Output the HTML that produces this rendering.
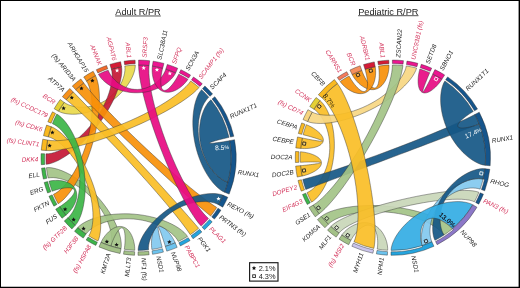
<!DOCTYPE html>
<html><head><meta charset="utf-8"><style>
html,body{margin:0;padding:0;background:#fff;}
body{width:520px;height:288px;overflow:hidden;}
svg{display:block;will-change:transform;}
svg text{font-family:"Liberation Sans",sans-serif;}
.lab text{font-size:6.35px;font-style:italic;}
</style></head><body>
<svg width="520" height="288" viewBox="0 0 520 288">
<rect x="0" y="0" width="520" height="288" fill="#ffffff"/>
<text x="138" y="15" text-anchor="middle" style="font-size:9.2px" fill="#1a1a1a">Adult R/PR</text>
<rect x="115.2" y="15.6" width="45.6" height="0.75" fill="#1a1a1a"/>
<text x="388.3" y="14.8" text-anchor="middle" style="font-size:9.2px" fill="#1a1a1a">Pediatric R/PR</text>
<rect x="358.1" y="15.4" width="60.4" height="0.75" fill="#1a1a1a"/>
<g class="lab">
<path d="M162.16,247.36 A92.70,92.70 0 0 1 151.86,249.45 L151.63,247.50 151.50,245.42 151.46,243.27 151.53,241.10 151.70,238.95 151.98,236.87 152.37,234.90 152.87,233.08 153.48,231.43 154.19,229.98 155.01,228.76 155.93,227.79 156.94,227.07 158.04,226.61 159.21,226.43 160.44,226.51 161.74,226.87 163.07,227.48 164.44,228.34 165.82,229.42 167.20,230.72 168.56,232.19 169.88,233.82 171.15,235.56 172.35,237.38 173.44,239.24 174.41,241.08 175.23,242.85 A92.70,92.70 0 0 1 165.36,246.45 L164.79,244.61 164.18,242.67 163.55,240.68 162.89,238.70 162.24,236.77 161.61,234.94 161.00,233.24 160.43,231.70 159.90,230.36 159.43,229.24 159.03,228.36 158.69,227.73 158.42,227.37 158.22,227.28 158.11,227.46 158.07,227.91 158.10,228.62 158.22,229.59 158.40,230.79 158.65,232.20 158.97,233.81 159.34,235.58 159.75,237.47 160.21,239.45 160.69,241.48 161.18,243.51 161.68,245.49 162.16,247.36 Z" fill="#82c9ef" fill-opacity="0.92" stroke="#2e2e2e" stroke-opacity="0.85" stroke-width="0.5"/>
<path d="M48.16,178.03 A92.70,92.70 0 0 1 46.44,167.66 L49.01,167.58 51.92,167.87 55.13,168.52 58.58,169.52 62.22,170.86 66.01,172.53 69.91,174.53 73.87,176.83 77.85,179.42 81.83,182.29 85.75,185.40 89.59,188.75 93.33,192.31 96.92,196.04 100.34,199.93 103.57,203.95 106.59,208.06 109.37,212.23 111.89,216.43 114.14,220.61 116.11,224.75 117.77,228.80 119.12,232.72 120.16,236.46 120.87,239.98 121.24,243.23 121.29,246.16 121.00,248.71 A92.70,92.70 0 0 1 110.81,246.14 L111.35,243.82 111.61,241.17 111.60,238.22 111.30,235.03 110.72,231.64 109.85,228.11 108.69,224.48 107.26,220.78 105.55,217.06 103.58,213.36 101.35,209.71 98.89,206.13 96.20,202.67 93.32,199.36 90.25,196.20 87.03,193.24 83.67,190.49 80.22,187.97 76.69,185.69 73.13,183.68 69.56,181.94 66.04,180.49 62.59,179.33 59.27,178.47 56.11,177.90 53.18,177.64 50.51,177.69 48.16,178.03 Z" fill="#a3c387" fill-opacity="0.92" stroke="#2e2e2e" stroke-opacity="0.85" stroke-width="0.5"/>
<path d="M110.81,246.14 A92.70,92.70 0 0 1 100.98,242.42 L101.86,240.64 102.93,238.80 104.16,236.95 105.55,235.15 107.04,233.44 108.64,231.85 110.31,230.41 112.03,229.17 113.79,228.13 115.56,227.33 117.33,226.77 119.08,226.48 120.79,226.45 122.46,226.70 124.06,227.22 125.59,228.00 127.02,229.04 128.36,230.32 129.59,231.83 130.71,233.54 131.70,235.42 132.56,237.44 133.28,239.58 133.87,241.78 134.31,244.01 134.60,246.21 134.74,248.33 134.74,250.32 A92.70,92.70 0 0 1 124.28,249.29 L124.54,247.37 124.77,245.33 124.94,243.23 125.05,241.12 125.10,239.04 125.08,237.05 124.98,235.18 124.81,233.47 124.56,231.95 124.24,230.64 123.83,229.56 123.35,228.74 122.80,228.17 122.18,227.88 121.50,227.87 120.75,228.13 119.96,228.65 119.12,229.44 118.24,230.47 117.35,231.73 116.43,233.19 115.52,234.82 114.62,236.59 113.74,238.47 112.90,240.41 112.13,242.37 111.42,244.30 110.81,246.14 Z" fill="#a3c387" fill-opacity="0.92" stroke="#2e2e2e" stroke-opacity="0.85" stroke-width="0.5"/>
<path d="M86.02,234.05 A92.70,92.70 0 0 1 77.72,227.60 L79.55,225.80 81.89,224.03 84.68,222.33 87.89,220.72 91.48,219.23 95.40,217.89 99.61,216.71 104.08,215.71 108.77,214.90 113.63,214.31 118.62,213.93 123.72,213.77 128.87,213.85 134.05,214.15 139.20,214.68 144.30,215.43 149.31,216.40 154.18,217.58 158.88,218.94 163.38,220.49 167.63,222.19 171.60,224.03 175.25,225.99 178.55,228.03 181.46,230.14 183.95,232.26 185.97,234.38 187.49,236.46 A92.70,92.70 0 0 1 178.26,241.49 L177.09,239.42 175.48,237.29 173.46,235.14 171.08,233.00 168.35,230.91 165.31,228.91 162.00,227.03 158.44,225.29 154.66,223.72 150.69,222.34 146.58,221.17 142.35,220.22 138.03,219.50 133.65,219.03 129.26,218.80 124.88,218.81 120.55,219.07 116.30,219.57 112.17,220.29 108.19,221.24 104.39,222.38 100.82,223.71 97.50,225.20 94.47,226.82 91.78,228.55 89.45,230.35 87.51,232.20 86.02,234.05 Z" fill="#a3c387" fill-opacity="0.92" stroke="#2e2e2e" stroke-opacity="0.85" stroke-width="0.5"/>
<path d="M124.81,66.03 A92.70,92.70 0 0 1 135.27,65.06 L135.18,67.40 134.74,70.00 133.96,72.79 132.85,75.74 131.42,78.78 129.68,81.88 127.65,85.00 125.33,88.09 122.75,91.12 119.92,94.06 116.86,96.88 113.61,99.55 110.17,102.04 106.58,104.34 102.85,106.43 99.04,108.29 95.15,109.91 91.22,111.28 87.30,112.40 83.41,113.25 79.59,113.84 75.88,114.17 72.33,114.25 68.97,114.08 65.85,113.67 63.02,113.05 60.52,112.21 58.41,111.19 A92.70,92.70 0 0 1 64.19,102.42 L66.03,103.60 68.19,104.65 70.64,105.56 73.33,106.29 76.21,106.82 79.24,107.14 82.38,107.24 85.59,107.09 88.84,106.69 92.10,106.05 95.32,105.15 98.49,104.00 101.58,102.60 104.55,100.97 107.39,99.11 110.07,97.05 112.58,94.79 114.89,92.37 116.99,89.80 118.87,87.11 120.51,84.35 121.90,81.53 123.05,78.71 123.93,75.92 124.55,73.21 124.90,70.62 124.99,68.21 124.81,66.03 Z" fill="#e9d94c" fill-opacity="0.92" stroke="#2e2e2e" stroke-opacity="0.85" stroke-width="0.5"/>
<path d="M111.33,69.10 A92.70,92.70 0 0 1 121.53,66.59 L121.83,69.33 121.79,72.48 121.41,76.01 120.69,79.85 119.65,83.95 118.28,88.29 116.60,92.79 114.62,97.44 112.36,102.18 109.82,106.96 107.04,111.77 104.01,116.54 100.77,121.26 97.34,125.88 93.75,130.38 90.01,134.71 86.15,138.85 82.22,142.76 78.23,146.43 74.22,149.83 70.24,152.92 66.30,155.69 62.46,158.11 58.75,160.16 55.22,161.83 51.91,163.10 48.87,163.94 46.14,164.35 A92.70,92.70 0 0 1 45.98,153.84 L48.51,153.74 51.35,153.27 54.45,152.42 57.76,151.21 61.22,149.65 64.80,147.75 68.45,145.53 72.14,143.00 75.82,140.18 79.46,137.10 83.03,133.76 86.49,130.21 89.82,126.45 93.00,122.53 95.98,118.47 98.77,114.29 101.33,110.04 103.64,105.74 105.70,101.43 107.49,97.16 109.00,92.95 110.22,88.85 111.15,84.91 111.78,81.16 112.11,77.66 112.14,74.45 111.88,71.58 111.33,69.10 Z" fill="#c41735" fill-opacity="0.92" stroke="#2e2e2e" stroke-opacity="0.85" stroke-width="0.5"/>
<path d="M86.47,81.05 A92.70,92.70 0 0 1 95.48,75.64 L96.64,78.32 97.62,81.52 98.40,85.20 98.97,89.32 99.31,93.82 99.44,98.67 99.34,103.80 99.01,109.19 98.46,114.78 97.68,120.52 96.67,126.39 95.45,132.32 94.02,138.28 92.39,144.23 90.57,150.12 88.57,155.92 86.41,161.58 84.11,167.07 81.68,172.33 79.15,177.34 76.53,182.06 73.86,186.45 71.15,190.46 68.43,194.08 65.74,197.24 63.11,199.93 60.56,202.11 58.14,203.74 A92.70,92.70 0 0 1 53.45,194.33 L55.82,193.09 58.33,191.34 60.94,189.11 63.60,186.44 66.30,183.36 68.97,179.90 71.61,176.09 74.18,171.97 76.64,167.56 78.98,162.91 81.18,158.05 83.21,153.02 85.06,147.85 86.71,142.57 88.15,137.24 89.37,131.89 90.36,126.55 91.12,121.27 91.64,116.09 91.93,111.05 91.98,106.20 91.81,101.57 91.41,97.21 90.79,93.16 89.98,89.48 88.97,86.20 87.80,83.37 86.47,81.05 Z" fill="#f79009" fill-opacity="0.92" stroke="#2e2e2e" stroke-opacity="0.85" stroke-width="0.5"/>
<path d="M75.64,89.66 A92.70,92.70 0 0 1 83.75,82.97 L86.40,86.45 89.44,90.22 92.85,94.25 96.60,98.53 100.66,103.03 105.01,107.72 109.61,112.57 114.45,117.56 119.48,122.67 124.69,127.87 130.04,133.13 135.51,138.43 141.07,143.75 146.70,149.05 152.36,154.31 158.03,159.51 163.68,164.62 169.28,169.62 174.81,174.47 180.24,179.16 185.54,183.65 190.69,187.92 195.65,191.95 200.41,195.71 204.92,199.17 209.17,202.31 213.14,205.10 216.78,207.51 A92.70,92.70 0 0 1 210.64,216.04 L207.04,213.08 203.13,209.81 198.96,206.24 194.53,202.41 189.87,198.33 185.01,194.03 179.97,189.53 174.78,184.85 169.45,180.02 164.02,175.06 158.50,169.99 152.93,164.85 147.32,159.64 141.70,154.39 136.09,149.13 130.53,143.87 125.02,138.65 119.60,133.48 114.30,128.38 109.13,123.39 104.12,118.51 99.29,113.78 94.68,109.22 90.30,104.84 86.19,100.67 82.35,96.74 78.83,93.06 75.64,89.66 Z" fill="#f79009" fill-opacity="0.92" stroke="#2e2e2e" stroke-opacity="0.85" stroke-width="0.5"/>
<path d="M66.22,99.78 A92.70,92.70 0 0 1 73.24,91.96 L76.58,95.34 80.18,99.03 84.04,103.02 88.12,107.27 92.41,111.77 96.89,116.49 101.53,121.41 106.31,126.50 111.21,131.74 116.22,137.11 121.30,142.57 126.44,148.12 131.62,153.72 136.80,159.35 141.98,164.99 147.13,170.62 152.23,176.20 157.26,181.72 162.19,187.15 167.00,192.48 171.68,197.67 176.19,202.70 180.52,207.55 184.65,212.20 188.55,216.63 192.20,220.80 195.58,224.70 198.67,228.31 A92.70,92.70 0 0 1 190.29,234.65 L187.75,230.99 184.86,227.01 181.63,222.74 178.10,218.21 174.29,213.45 170.22,208.47 165.92,203.31 161.41,197.99 156.72,192.55 151.88,186.99 146.91,181.36 141.83,175.68 136.67,169.98 131.45,164.28 126.20,158.60 120.95,152.98 115.71,147.45 110.51,142.02 105.38,136.74 100.35,131.61 95.42,126.68 90.64,121.96 86.02,117.49 81.59,113.30 77.37,109.40 73.38,105.83 69.66,102.61 66.22,99.78 Z" fill="#fabe26" fill-opacity="0.92" stroke="#2e2e2e" stroke-opacity="0.85" stroke-width="0.5"/>
<path d="M48.28,136.85 A92.70,92.70 0 0 1 51.22,126.76 L53.74,127.87 56.45,129.49 59.31,131.59 62.27,134.13 65.30,137.10 68.36,140.46 71.42,144.17 74.44,148.21 77.40,152.54 80.28,157.14 83.03,161.96 85.65,166.97 88.10,172.14 90.38,177.43 92.46,182.79 94.33,188.20 95.98,193.61 97.39,198.98 98.57,204.27 99.49,209.44 100.17,214.44 100.59,219.23 100.76,223.77 100.67,228.01 100.34,231.90 99.78,235.40 98.98,238.45 97.96,241.02 A92.70,92.70 0 0 1 88.79,235.88 L89.98,233.64 91.00,230.95 91.82,227.84 92.43,224.38 92.82,220.60 92.97,216.55 92.88,212.28 92.54,207.82 91.95,203.22 91.11,198.52 90.01,193.76 88.68,188.98 87.10,184.22 85.30,179.51 83.28,174.88 81.06,170.38 78.67,166.03 76.11,161.87 73.42,157.93 70.62,154.24 67.74,150.82 64.81,147.71 61.86,144.93 58.93,142.50 56.07,140.46 53.31,138.82 50.69,137.61 48.28,136.85 Z" fill="#fabe26" fill-opacity="0.92" stroke="#2e2e2e" stroke-opacity="0.85" stroke-width="0.5"/>
<path d="M46.18,150.52 A92.70,92.70 0 0 1 47.59,140.10 L50.91,140.55 54.74,140.71 59.05,140.58 63.77,140.19 68.88,139.53 74.31,138.61 80.02,137.43 85.98,136.02 92.14,134.38 98.45,132.52 104.87,130.45 111.35,128.20 117.86,125.76 124.36,123.17 130.79,120.43 137.12,117.57 143.31,114.59 149.32,111.53 155.11,108.40 160.63,105.23 165.85,102.03 170.73,98.83 175.23,95.65 179.32,92.53 182.95,89.47 186.09,86.53 188.69,83.71 190.73,81.05 A92.70,92.70 0 0 1 199.08,87.44 L196.58,90.09 193.52,92.88 189.94,95.79 185.87,98.80 181.35,101.89 176.42,105.03 171.13,108.21 165.51,111.41 159.59,114.59 153.43,117.75 147.05,120.86 140.50,123.90 133.83,126.87 127.06,129.73 120.25,132.47 113.42,135.08 106.63,137.53 99.92,139.82 93.32,141.93 86.88,143.84 80.64,145.54 74.64,147.02 68.93,148.26 63.55,149.25 58.54,149.99 53.95,150.45 49.81,150.63 46.18,150.52 Z" fill="#fabe26" fill-opacity="0.92" stroke="#2e2e2e" stroke-opacity="0.85" stroke-width="0.5"/>
<path d="M52.19,191.26 A92.70,92.70 0 0 1 48.94,181.26 L50.90,180.83 53.02,180.54 55.26,180.38 57.57,180.37 59.89,180.52 62.18,180.84 64.40,181.32 66.51,181.96 68.49,182.78 70.30,183.76 71.92,184.90 73.33,186.20 74.51,187.64 75.46,189.22 76.15,190.92 76.59,192.74 76.78,194.64 76.72,196.62 76.42,198.66 75.88,200.73 75.13,202.81 74.18,204.87 73.05,206.89 71.78,208.84 70.39,210.67 68.92,212.37 67.40,213.89 65.88,215.20 A92.70,92.70 0 0 1 59.84,206.59 L61.47,205.54 63.16,204.35 64.85,203.08 66.51,201.74 68.08,200.36 69.55,198.97 70.87,197.59 72.01,196.25 72.96,194.96 73.70,193.74 74.20,192.60 74.46,191.57 74.47,190.64 74.22,189.84 73.72,189.16 72.98,188.61 72.00,188.19 70.79,187.91 69.37,187.76 67.77,187.75 66.01,187.86 64.11,188.08 62.12,188.42 60.07,188.85 58.01,189.37 55.97,189.95 54.01,190.59 52.19,191.26 Z" fill="#3cb546" fill-opacity="0.92" stroke="#2e2e2e" stroke-opacity="0.85" stroke-width="0.5"/>
<path d="M52.38,123.64 A92.70,92.70 0 0 1 56.79,114.10 L58.99,115.50 61.27,117.41 63.60,119.78 65.94,122.58 68.25,125.79 70.50,129.36 72.67,133.26 74.73,137.46 76.65,141.92 78.41,146.60 79.99,151.47 81.39,156.49 82.58,161.62 83.56,166.83 84.32,172.07 84.84,177.32 85.14,182.52 85.21,187.64 85.06,192.64 84.68,197.48 84.09,202.11 83.30,206.51 82.32,210.61 81.17,214.39 79.86,217.80 78.42,220.80 76.88,223.34 75.25,225.37 A92.70,92.70 0 0 1 67.99,217.77 L69.70,216.07 71.36,213.93 72.94,211.38 74.41,208.47 75.75,205.23 76.93,201.70 77.92,197.93 78.71,193.94 79.29,189.78 79.63,185.48 79.74,181.09 79.61,176.62 79.23,172.13 78.61,167.65 77.75,163.20 76.66,158.83 75.34,154.57 73.82,150.44 72.11,146.48 70.22,142.73 68.18,139.21 66.02,135.96 63.77,133.00 61.46,130.37 59.13,128.09 56.81,126.19 54.54,124.70 52.38,123.64 Z" fill="#3cb546" fill-opacity="0.92" stroke="#2e2e2e" stroke-opacity="0.85" stroke-width="0.5"/>
<path d="M148.56,249.86 A92.70,92.70 0 0 1 138.06,250.40 L138.27,247.94 138.86,245.20 139.83,242.25 141.16,239.12 142.83,235.87 144.85,232.54 147.18,229.17 149.81,225.80 152.73,222.47 155.90,219.20 159.31,216.03 162.93,213.00 166.74,210.11 170.71,207.41 174.81,204.90 179.00,202.62 183.26,200.56 187.55,198.76 191.83,197.21 196.07,195.92 200.22,194.91 204.26,194.17 208.12,193.70 211.77,193.51 215.17,193.58 218.26,193.92 220.99,194.50 223.32,195.32 A92.70,92.70 0 0 1 218.52,204.67 L216.47,203.66 214.05,202.83 211.33,202.20 208.34,201.78 205.13,201.59 201.76,201.64 198.24,201.94 194.64,202.50 190.99,203.32 187.32,204.40 183.67,205.73 180.07,207.31 176.56,209.13 173.15,211.18 169.88,213.45 166.77,215.90 163.85,218.53 161.14,221.31 158.65,224.22 156.40,227.21 154.41,230.26 152.69,233.34 151.25,236.40 150.10,239.40 149.26,242.29 148.72,245.04 148.48,247.58 148.56,249.86 Z" fill="#155786" fill-opacity="0.92" stroke="#2e2e2e" stroke-opacity="0.85" stroke-width="0.5"/>
<path d="M138.60,65.00 A92.70,92.70 0 0 1 149.09,65.60 L148.86,69.19 148.91,73.29 149.23,77.85 149.81,82.84 150.65,88.21 151.73,93.91 153.04,99.90 154.58,106.14 156.32,112.59 158.26,119.19 160.38,125.92 162.67,132.73 165.11,139.57 167.70,146.40 170.40,153.19 173.22,159.88 176.12,166.45 179.09,172.85 182.12,179.03 185.18,184.97 188.26,190.61 191.34,195.91 194.39,200.85 197.39,205.38 200.33,209.45 203.17,213.04 205.91,216.09 208.50,218.58 A92.70,92.70 0 0 1 201.16,226.11 L198.64,223.14 196.00,219.63 193.24,215.62 190.40,211.13 187.49,206.21 184.52,200.90 181.52,195.24 178.49,189.27 175.47,183.02 172.46,176.54 169.48,169.86 166.55,163.02 163.69,156.07 160.90,149.04 158.21,141.97 155.64,134.91 153.18,127.89 150.87,120.95 148.72,114.14 146.73,107.48 144.93,101.03 143.33,94.83 141.94,88.91 140.77,83.31 139.84,78.08 139.16,73.26 138.74,68.89 138.60,65.00 Z" fill="#e70a82" fill-opacity="0.92" stroke="#2e2e2e" stroke-opacity="0.85" stroke-width="0.5"/>
<path d="M98.45,74.15 A92.70,92.70 0 0 1 108.16,70.14 L108.97,72.08 110.06,74.08 111.42,76.12 113.03,78.12 114.85,80.06 116.86,81.90 119.05,83.59 121.40,85.11 123.87,86.44 126.45,87.54 129.11,88.41 131.83,89.02 134.60,89.37 137.38,89.46 140.15,89.27 142.90,88.82 145.60,88.11 148.23,87.15 150.77,85.95 153.19,84.54 155.47,82.94 157.60,81.17 159.55,79.26 161.30,77.26 162.83,75.19 164.12,73.12 165.14,71.07 165.87,69.10 A92.70,92.70 0 0 1 175.73,72.76 L174.69,74.74 173.28,76.78 171.52,78.84 169.44,80.87 167.07,82.83 164.45,84.69 161.59,86.41 158.52,87.97 155.28,89.34 151.90,90.51 148.39,91.45 144.79,92.15 141.13,92.60 137.44,92.79 133.74,92.73 130.06,92.41 126.44,91.84 122.90,91.03 119.48,89.99 116.19,88.73 113.07,87.28 110.15,85.66 107.46,83.90 105.02,82.02 102.88,80.07 101.04,78.08 99.56,76.09 98.45,74.15 Z" fill="#e70a82" fill-opacity="0.92" stroke="#2e2e2e" stroke-opacity="0.85" stroke-width="0.5"/>
<path d="M152.39,66.03 A92.70,92.70 0 0 1 162.68,68.18 L162.21,70.07 161.79,72.08 161.43,74.17 161.14,76.28 160.93,78.37 160.81,80.38 160.78,82.29 160.87,84.05 161.05,85.64 161.35,87.03 161.76,88.21 162.28,89.14 162.91,89.82 163.64,90.24 164.46,90.40 165.38,90.29 166.38,89.92 167.46,89.30 168.59,88.44 169.77,87.36 170.98,86.07 172.21,84.61 173.44,83.01 174.64,81.29 175.79,79.50 176.88,77.68 177.87,75.88 178.75,74.15 A92.70,92.70 0 0 1 187.95,79.23 L186.82,80.88 185.47,82.55 183.94,84.19 182.26,85.77 180.47,87.24 178.58,88.58 176.63,89.75 174.64,90.72 172.64,91.47 170.65,92.00 168.69,92.27 166.77,92.29 164.92,92.04 163.16,91.53 161.48,90.77 159.92,89.75 158.48,88.48 157.17,86.99 156.00,85.30 154.98,83.42 154.11,81.39 153.39,79.23 152.84,76.99 152.44,74.70 152.20,72.41 152.11,70.17 152.18,68.02 152.39,66.03 Z" fill="#e70a82" fill-opacity="0.92" stroke="#2e2e2e" stroke-opacity="0.85" stroke-width="0.5"/>
<path d="M201.56,89.66 A92.70,92.70 0 0 1 208.86,97.22 L207.22,98.87 205.63,100.93 204.12,103.36 202.73,106.12 201.49,109.19 200.42,112.50 199.54,116.04 198.87,119.76 198.42,123.63 198.22,127.60 198.26,131.65 198.54,135.75 199.08,139.85 199.87,143.93 200.90,147.95 202.17,151.89 203.66,155.72 205.36,159.39 207.25,162.90 209.31,166.20 211.50,169.28 213.81,172.10 216.20,174.64 218.63,176.87 221.07,178.78 223.47,180.34 225.79,181.52 227.98,182.30 A92.70,92.70 0 0 1 224.62,192.26 L222.37,191.14 220.00,189.56 217.55,187.53 215.07,185.10 212.59,182.28 210.15,179.11 207.78,175.62 205.51,171.85 203.37,167.81 201.39,163.55 199.57,159.10 197.94,154.50 196.52,149.77 195.32,144.95 194.35,140.08 193.61,135.20 193.10,130.34 192.84,125.54 192.82,120.84 193.03,116.28 193.46,111.90 194.11,107.73 194.96,103.82 195.99,100.22 197.19,96.96 198.54,94.08 200.00,91.63 201.56,89.66 Z" fill="#155786" fill-opacity="0.92" stroke="#2e2e2e" stroke-opacity="0.85" stroke-width="0.5"/>
<path d="M210.98,99.78 A92.70,92.70 0 0 1 229.04,137.37 L227.16,137.80 225.18,138.27 223.15,138.77 221.13,139.27 219.16,139.78 217.29,140.29 215.55,140.77 213.98,141.23 212.60,141.66 211.45,142.05 210.55,142.39 209.89,142.69 209.51,142.93 209.41,143.12 209.58,143.24 210.02,143.32 210.74,143.33 211.71,143.29 212.92,143.19 214.35,143.04 215.97,142.84 217.76,142.60 219.68,142.32 221.69,142.01 223.75,141.68 225.81,141.33 227.82,140.98 229.71,140.63 A92.70,92.70 0 0 1 227.98,182.30 L225.82,181.53 223.53,180.37 221.16,178.85 218.77,176.98 216.38,174.80 214.05,172.32 211.80,169.56 209.67,166.57 207.69,163.35 205.88,159.93 204.27,156.35 202.87,152.64 201.69,148.81 200.76,144.90 200.07,140.94 199.64,136.96 199.45,132.99 199.52,129.06 199.83,125.21 200.38,121.47 201.15,117.87 202.13,114.46 203.29,111.26 204.62,108.31 206.09,105.65 207.66,103.31 209.30,101.35 210.98,99.78 Z" fill="#155786" fill-opacity="0.92" stroke="#2e2e2e" stroke-opacity="0.85" stroke-width="0.5"/>
<path d="M138.60,60.10 A97.60,97.60 0 0 1 149.65,60.73 L149.09,65.60 A92.70,92.70 0 0 0 138.60,65.00 Z" fill="#ec1590" stroke="#2a2a2a" stroke-opacity="0.85" stroke-width="0.5"/>
<path d="M153.12,61.19 A97.60,97.60 0 0 1 163.95,63.45 L162.68,68.18 A92.70,92.70 0 0 0 152.39,66.03 Z" fill="#ec1590" stroke="#2a2a2a" stroke-opacity="0.85" stroke-width="0.5"/>
<path d="M167.32,64.42 A97.60,97.60 0 0 1 177.69,68.27 L175.73,72.76 A92.70,92.70 0 0 0 165.87,69.10 Z" fill="#ec1590" stroke="#2a2a2a" stroke-opacity="0.85" stroke-width="0.5"/>
<path d="M180.87,69.73 A97.60,97.60 0 0 1 190.56,75.08 L188.70,78.04 A94.10,94.10 0 0 0 179.36,72.88 Z" fill="#ec1590" stroke="#2a2a2a" stroke-opacity="0.85" stroke-width="0.5"/>
<path d="M193.49,77.00 A97.60,97.60 0 0 1 202.27,83.73 L199.99,86.38 A94.10,94.10 0 0 0 191.52,79.89 Z" fill="#ec1590" stroke="#2a2a2a" stroke-opacity="0.85" stroke-width="0.5"/>
<path d="M204.89,86.06 A97.60,97.60 0 0 1 212.57,94.03 L209.92,96.31 A94.10,94.10 0 0 0 202.51,88.63 Z" fill="#15558c" stroke="#2a2a2a" stroke-opacity="0.85" stroke-width="0.5"/>
<path d="M214.81,96.72 A97.60,97.60 0 0 1 233.82,136.30 L230.41,137.07 A94.10,94.10 0 0 0 227.48,126.81 L227.48,126.81 A94.10,94.10 0 0 0 223.42,116.94 L223.42,116.94 A94.10,94.10 0 0 0 218.26,107.60 L218.26,107.60 A94.10,94.10 0 0 0 212.07,98.91 Z" fill="#15558c" stroke="#2a2a2a" stroke-opacity="0.85" stroke-width="0.5"/>
<path d="M234.53,139.73 A97.60,97.60 0 0 1 229.16,194.09 L224.62,192.26 A92.70,92.70 0 0 0 227.98,182.30 L227.98,182.30 A92.70,92.70 0 0 0 230.19,172.02 L230.19,172.02 A92.70,92.70 0 0 0 231.22,161.56 L231.22,161.56 A92.70,92.70 0 0 0 231.06,151.05 L231.06,151.05 A92.70,92.70 0 0 0 229.71,140.63 Z" fill="#15558c" stroke="#2a2a2a" stroke-opacity="0.85" stroke-width="0.5"/>
<path d="M227.80,197.31 A97.60,97.60 0 0 1 222.74,207.15 L218.52,204.67 A92.70,92.70 0 0 0 223.32,195.32 Z" fill="#15558c" stroke="#2a2a2a" stroke-opacity="0.85" stroke-width="0.5"/>
<path d="M220.92,210.14 A97.60,97.60 0 0 1 214.45,219.12 L211.73,216.92 A94.10,94.10 0 0 0 217.96,208.26 Z" fill="#15558c" stroke="#2a2a2a" stroke-opacity="0.85" stroke-width="0.5"/>
<path d="M212.20,221.80 A97.60,97.60 0 0 1 204.47,229.72 L202.11,227.14 A94.10,94.10 0 0 0 209.56,219.50 Z" fill="#24a4de" stroke="#2a2a2a" stroke-opacity="0.85" stroke-width="0.5"/>
<path d="M201.84,232.04 A97.60,97.60 0 0 1 193.02,238.72 L191.07,235.81 A94.10,94.10 0 0 0 199.57,229.37 Z" fill="#24a4de" stroke="#2a2a2a" stroke-opacity="0.85" stroke-width="0.5"/>
<path d="M190.08,240.62 A97.60,97.60 0 0 1 180.36,245.91 L178.86,242.75 A94.10,94.10 0 0 0 188.23,237.65 Z" fill="#24a4de" stroke="#2a2a2a" stroke-opacity="0.85" stroke-width="0.5"/>
<path d="M177.17,247.36 A97.60,97.60 0 0 1 166.77,251.15 L165.36,246.45 A92.70,92.70 0 0 0 175.23,242.85 Z" fill="#6cc3ee" stroke="#2a2a2a" stroke-opacity="0.85" stroke-width="0.5"/>
<path d="M163.40,252.10 A97.60,97.60 0 0 1 152.56,254.30 L152.06,250.83 A94.10,94.10 0 0 0 162.51,248.71 Z" fill="#6cc3ee" stroke="#2a2a2a" stroke-opacity="0.85" stroke-width="0.5"/>
<path d="M149.08,254.74 A97.60,97.60 0 0 1 138.03,255.30 L138.05,251.80 A94.10,94.10 0 0 0 148.71,251.26 Z" fill="#a3c187" stroke="#2a2a2a" stroke-opacity="0.85" stroke-width="0.5"/>
<path d="M134.53,255.22 A97.60,97.60 0 0 1 123.52,254.13 L124.06,250.67 A94.10,94.10 0 0 0 134.68,251.72 Z" fill="#a3c187" stroke="#2a2a2a" stroke-opacity="0.85" stroke-width="0.5"/>
<path d="M120.07,253.52 A97.60,97.60 0 0 1 98.99,246.90 L100.98,242.42 A92.70,92.70 0 0 0 110.81,246.14 L110.81,246.14 A92.70,92.70 0 0 0 121.00,248.71 Z" fill="#a3c187" stroke="#2a2a2a" stroke-opacity="0.85" stroke-width="0.5"/>
<path d="M95.81,245.42 A97.60,97.60 0 0 1 86.16,240.02 L88.04,237.06 A94.10,94.10 0 0 0 97.35,242.28 Z" fill="#3db54a" stroke="#2a2a2a" stroke-opacity="0.85" stroke-width="0.5"/>
<path d="M83.24,238.08 A97.60,97.60 0 0 1 74.50,231.30 L77.72,227.60 A92.70,92.70 0 0 0 86.02,234.05 Z" fill="#3db54a" stroke="#2a2a2a" stroke-opacity="0.85" stroke-width="0.5"/>
<path d="M71.90,228.95 A97.60,97.60 0 0 1 64.26,220.94 L67.99,217.77 A92.70,92.70 0 0 0 75.25,225.37 Z" fill="#3db54a" stroke="#2a2a2a" stroke-opacity="0.85" stroke-width="0.5"/>
<path d="M62.04,218.23 A97.60,97.60 0 0 1 55.68,209.18 L59.84,206.59 A92.70,92.70 0 0 0 65.88,215.20 Z" fill="#3db54a" stroke="#2a2a2a" stroke-opacity="0.85" stroke-width="0.5"/>
<path d="M53.89,206.17 A97.60,97.60 0 0 1 48.94,196.27 L52.16,194.89 A94.10,94.10 0 0 0 56.93,204.43 Z" fill="#3db54a" stroke="#2a2a2a" stroke-opacity="0.85" stroke-width="0.5"/>
<path d="M47.62,193.03 A97.60,97.60 0 0 1 44.20,182.50 L47.59,181.61 A94.10,94.10 0 0 0 50.88,191.76 Z" fill="#3db54a" stroke="#2a2a2a" stroke-opacity="0.85" stroke-width="0.5"/>
<path d="M43.38,179.10 A97.60,97.60 0 0 1 41.56,168.18 L45.04,167.81 A94.10,94.10 0 0 0 46.79,178.33 Z" fill="#3db54a" stroke="#2a2a2a" stroke-opacity="0.85" stroke-width="0.5"/>
<path d="M41.25,164.70 A97.60,97.60 0 0 1 41.08,153.63 L44.58,153.78 A94.10,94.10 0 0 0 44.74,164.45 Z" fill="#3db54a" stroke="#2a2a2a" stroke-opacity="0.85" stroke-width="0.5"/>
<path d="M41.29,150.14 A97.60,97.60 0 0 1 42.78,139.17 L47.59,140.10 A92.70,92.70 0 0 0 46.18,150.52 Z" fill="#f9b920" stroke="#2a2a2a" stroke-opacity="0.85" stroke-width="0.5"/>
<path d="M43.50,135.74 A97.60,97.60 0 0 1 46.60,125.12 L51.22,126.76 A92.70,92.70 0 0 0 48.28,136.85 Z" fill="#f9b920" stroke="#2a2a2a" stroke-opacity="0.85" stroke-width="0.5"/>
<path d="M47.83,121.84 A97.60,97.60 0 0 1 52.47,111.80 L55.56,113.44 A94.10,94.10 0 0 0 51.08,123.13 Z" fill="#f9b920" stroke="#2a2a2a" stroke-opacity="0.85" stroke-width="0.5"/>
<path d="M54.17,108.74 A97.60,97.60 0 0 1 60.26,99.49 L64.19,102.42 A92.70,92.70 0 0 0 58.41,111.19 Z" fill="#e4d035" stroke="#2a2a2a" stroke-opacity="0.85" stroke-width="0.5"/>
<path d="M62.39,96.72 A97.60,97.60 0 0 1 69.79,88.49 L73.24,91.96 A92.70,92.70 0 0 0 66.22,99.78 Z" fill="#f7911a" stroke="#2a2a2a" stroke-opacity="0.85" stroke-width="0.5"/>
<path d="M72.31,86.06 A97.60,97.60 0 0 1 80.85,79.02 L83.75,82.97 A92.70,92.70 0 0 0 75.64,89.66 Z" fill="#f7911a" stroke="#2a2a2a" stroke-opacity="0.85" stroke-width="0.5"/>
<path d="M83.71,77.00 A97.60,97.60 0 0 1 93.20,71.30 L95.48,75.64 A92.70,92.70 0 0 0 86.47,81.05 Z" fill="#f7911a" stroke="#2a2a2a" stroke-opacity="0.85" stroke-width="0.5"/>
<path d="M96.33,69.73 A97.60,97.60 0 0 1 106.56,65.51 L107.71,68.82 A94.10,94.10 0 0 0 97.84,72.88 Z" fill="#f26a2b" stroke="#2a2a2a" stroke-opacity="0.85" stroke-width="0.5"/>
<path d="M109.88,64.42 A97.60,97.60 0 0 1 120.63,61.77 L121.53,66.59 A92.70,92.70 0 0 0 111.33,69.10 Z" fill="#d41b36" stroke="#2a2a2a" stroke-opacity="0.85" stroke-width="0.5"/>
<path d="M124.08,61.19 A97.60,97.60 0 0 1 135.10,60.16 L135.22,63.66 A94.10,94.10 0 0 0 124.60,64.65 Z" fill="#d41b36" stroke="#2a2a2a" stroke-opacity="0.85" stroke-width="0.5"/>
<path d="M169.35,239.77 L169.96,241.23 L171.54,241.36 L170.34,242.39 L170.71,243.93 L169.35,243.10 L168.00,243.93 L168.37,242.39 L167.17,241.36 L168.75,241.23 Z" fill="#111111"/>
<path d="M116.58,242.46 L117.19,243.92 L118.77,244.05 L117.56,245.08 L117.93,246.62 L116.58,245.79 L115.23,246.62 L115.60,245.08 L114.39,244.05 L115.97,243.92 Z" fill="#111111"/>
<path d="M106.87,239.41 L107.47,240.87 L109.05,241.00 L107.85,242.03 L108.22,243.57 L106.87,242.74 L105.51,243.57 L105.88,242.03 L104.68,241.00 L106.26,240.87 Z" fill="#111111"/>
<path d="M83.55,226.35 L84.16,227.81 L85.74,227.94 L84.54,228.97 L84.91,230.51 L83.55,229.69 L82.20,230.51 L82.57,228.97 L81.37,227.94 L82.95,227.81 Z" fill="#111111"/>
<path d="M63.60,106.02 L64.21,107.48 L65.78,107.61 L64.58,108.64 L64.95,110.18 L63.60,109.35 L62.25,110.18 L62.61,108.64 L61.41,107.61 L62.99,107.48 Z" fill="#111111"/>
<path d="M117.09,68.22 L117.70,69.68 L119.27,69.80 L118.07,70.83 L118.44,72.38 L117.09,71.55 L115.73,72.38 L116.10,70.83 L114.90,69.80 L116.48,69.68 Z" fill="#ffffff"/>
<path d="M92.39,78.40 L93.00,79.87 L94.57,79.99 L93.37,81.02 L93.74,82.56 L92.39,81.74 L91.03,82.56 L91.40,81.02 L90.20,79.99 L91.78,79.87 Z" fill="#111111"/>
<path d="M81.45,86.14 L82.05,87.60 L83.63,87.73 L82.43,88.76 L82.80,90.30 L81.45,89.47 L80.09,90.30 L80.46,88.76 L79.26,87.73 L80.84,87.60 Z" fill="#111111"/>
<path d="M71.78,95.41 L72.39,96.87 L73.97,97.00 L72.76,98.03 L73.13,99.57 L71.78,98.74 L70.43,99.57 L70.79,98.03 L69.59,97.00 L71.17,96.87 Z" fill="#111111"/>
<path d="M52.39,130.27 L53.00,131.73 L54.57,131.86 L53.37,132.89 L53.74,134.43 L52.39,133.61 L51.04,134.43 L51.40,132.89 L50.20,131.86 L51.78,131.73 Z" fill="#111111"/>
<path d="M49.61,143.38 L50.22,144.84 L51.80,144.97 L50.59,146.00 L50.96,147.54 L49.61,146.71 L48.26,147.54 L48.62,146.00 L47.42,144.97 L49.00,144.84 Z" fill="#111111"/>
<path d="M65.12,207.01 L65.72,208.48 L67.30,208.60 L66.10,209.63 L66.47,211.17 L65.12,210.35 L63.76,211.17 L64.13,209.63 L62.93,208.60 L64.51,208.48 Z" fill="#111111"/>
<path d="M73.61,217.37 L74.22,218.83 L75.80,218.96 L74.60,219.99 L74.96,221.53 L73.61,220.71 L72.26,221.53 L72.63,219.99 L71.42,218.96 L73.00,218.83 Z" fill="#111111"/>
<path d="M218.47,196.44 L219.08,197.90 L220.66,198.03 L219.46,199.06 L219.83,200.60 L218.47,199.77 L217.12,200.60 L217.49,199.06 L216.29,198.03 L217.87,197.90 Z" fill="#ffffff"/>
<path d="M143.69,65.74 L144.30,67.21 L145.88,67.33 L144.68,68.36 L145.04,69.91 L143.69,69.08 L142.34,69.91 L142.71,68.36 L141.50,67.33 L143.08,67.21 Z" fill="#ffffff"/>
<path d="M169.84,71.21 L170.45,72.67 L172.03,72.80 L170.83,73.83 L171.20,75.37 L169.84,74.55 L168.49,75.37 L168.86,73.83 L167.66,72.80 L169.24,72.67 Z" fill="#ffffff"/>
<path d="M156.97,67.50 L157.58,68.96 L159.16,69.09 L157.96,70.12 L158.32,71.66 L156.97,70.83 L155.62,71.66 L155.99,70.12 L154.78,69.09 L156.36,68.96 Z" fill="#ffffff"/>
<text x="144.29" y="57.56" transform="rotate(-86.75 144.29 57.56)" text-anchor="start" dy="2.3" fill="#d3325a">SRSF3</text>
<text x="159.12" y="59.52" transform="rotate(-78.19 159.12 59.52)" text-anchor="start" dy="2.3" fill="#222222">SLC38A11</text>
<text x="173.50" y="63.67" transform="rotate(-69.64 173.50 63.67)" text-anchor="start" dy="2.3" fill="#d3325a">SFPQ</text>
<text x="187.10" y="69.91" transform="rotate(-61.08 187.10 69.91)" text-anchor="start" dy="2.3" fill="#222222">SCN3A</text>
<text x="199.62" y="78.10" transform="rotate(-52.53 199.62 78.10)" text-anchor="start" dy="2.3" fill="#d3325a">SCAMP1 (fs)</text>
<text x="210.78" y="88.06" transform="rotate(-43.97 210.78 88.06)" text-anchor="start" dy="2.3" fill="#222222">SCAF4</text>
<text x="230.11" y="116.64" transform="rotate(-24.17 230.11 116.64)" text-anchor="start" dy="2.3" fill="#222222">RUNX1T1</text>
<text x="237.89" y="171.90" transform="rotate(8.14 237.89 171.90)" text-anchor="start" dy="2.3" fill="#222222">RUNX1</text>
<text x="227.81" y="203.54" transform="rotate(27.19 227.81 203.54)" text-anchor="start" dy="2.3" fill="#222222">REXO (fs)</text>
<text x="220.00" y="216.30" transform="rotate(35.75 220.00 216.30)" text-anchor="start" dy="2.3" fill="#222222">PRTN3 (fs)</text>
<text x="210.38" y="227.76" transform="rotate(44.31 210.38 227.76)" text-anchor="start" dy="2.3" fill="#d3325a">PLAG1</text>
<text x="199.16" y="237.66" transform="rotate(52.86 199.16 237.66)" text-anchor="start" dy="2.3" fill="#222222">PGK1</text>
<text x="186.59" y="245.78" transform="rotate(61.42 186.59 245.78)" text-anchor="start" dy="2.3" fill="#d3325a">PABPC1</text>
<text x="172.95" y="251.93" transform="rotate(69.97 172.95 251.93)" text-anchor="start" dy="2.3" fill="#222222">NUP98</text>
<text x="158.55" y="256.00" transform="rotate(78.53 158.55 256.00)" text-anchor="start" dy="2.3" fill="#222222">NSD1</text>
<text x="143.70" y="257.87" transform="rotate(87.08 143.70 257.87)" text-anchor="start" dy="2.3" fill="#222222">NF1 (fs)</text>
<text x="128.74" y="257.51" transform="rotate(275.64 128.74 257.51)" text-anchor="end" dy="2.3" fill="#222222">MLLT3</text>
<text x="108.53" y="253.39" transform="rotate(287.44 108.53 253.39)" text-anchor="end" dy="2.3" fill="#222222">KMT2A</text>
<text x="89.59" y="245.21" transform="rotate(299.25 89.59 245.21)" text-anchor="end" dy="2.3" fill="#d3325a">(fs) HSPA8</text>
<text x="77.12" y="236.95" transform="rotate(307.81 77.12 236.95)" text-anchor="end" dy="2.3" fill="#d3325a">H3F3B</text>
<text x="66.01" y="226.92" transform="rotate(316.36 66.01 226.92)" text-anchor="end" dy="2.3" fill="#d3325a">(fs) GTF2B</text>
<text x="56.52" y="215.35" transform="rotate(324.92 56.52 215.35)" text-anchor="end" dy="2.3" fill="#222222">FUS</text>
<text x="48.86" y="202.50" transform="rotate(333.47 48.86 202.50)" text-anchor="end" dy="2.3" fill="#222222">FKTN</text>
<text x="43.19" y="188.65" transform="rotate(342.03 43.19 188.65)" text-anchor="end" dy="2.3" fill="#222222">ERG</text>
<text x="39.65" y="174.11" transform="rotate(350.58 39.65 174.11)" text-anchor="end" dy="2.3" fill="#222222">ELL</text>
<text x="38.31" y="159.21" transform="rotate(359.14 38.31 159.21)" text-anchor="end" dy="2.3" fill="#d3325a">DKK4</text>
<text x="39.20" y="144.27" transform="rotate(367.69 39.20 144.27)" text-anchor="end" dy="2.3" fill="#d3325a">(fs) CLINT1</text>
<text x="42.31" y="129.63" transform="rotate(376.25 42.31 129.63)" text-anchor="end" dy="2.3" fill="#d3325a">(fs) CDK6</text>
<text x="47.55" y="115.62" transform="rotate(384.81 47.55 115.62)" text-anchor="end" dy="2.3" fill="#d3325a">(fs) CCDC179</text>
<text x="54.83" y="102.54" transform="rotate(393.36 54.83 102.54)" text-anchor="end" dy="2.3" fill="#d3325a">BCR</text>
<text x="63.97" y="90.69" transform="rotate(401.92 63.97 90.69)" text-anchor="end" dy="2.3" fill="#222222">ATP7A</text>
<text x="74.76" y="80.34" transform="rotate(410.47 74.76 80.34)" text-anchor="end" dy="2.3" fill="#222222">(fs) ARID3A</text>
<text x="86.98" y="71.70" transform="rotate(419.03 86.98 71.70)" text-anchor="end" dy="2.3" fill="#222222">ARHGAP15</text>
<text x="100.35" y="64.98" transform="rotate(427.58 100.35 64.98)" text-anchor="end" dy="2.3" fill="#d3325a">AHNAK</text>
<text x="114.57" y="60.32" transform="rotate(436.14 114.57 60.32)" text-anchor="end" dy="2.3" fill="#d3325a">AGPAT6</text>
<text x="129.33" y="57.83" transform="rotate(444.69 129.33 57.83)" text-anchor="end" dy="2.3" fill="#d3325a">ABL1</text>
<path d="M352.10,74.46 A92.70,92.70 0 0 1 361.79,70.38 L362.48,72.19 363.28,74.09 364.17,76.02 365.13,77.92 366.15,79.75 367.20,81.47 368.27,83.06 369.34,84.46 370.41,85.66 371.45,86.63 372.46,87.36 373.42,87.83 374.33,88.04 375.18,87.97 375.96,87.62 376.66,87.01 377.28,86.14 377.82,85.02 378.27,83.66 378.64,82.10 378.91,80.35 379.10,78.45 379.20,76.43 379.21,74.34 379.15,72.21 379.02,70.09 378.81,68.04 378.55,66.12 A92.70,92.70 0 0 1 389.01,65.08 L389.01,67.08 388.85,69.22 388.52,71.45 388.03,73.70 387.39,75.94 386.59,78.11 385.64,80.17 384.56,82.10 383.33,83.86 381.98,85.43 380.51,86.77 378.94,87.87 377.27,88.72 375.52,89.31 373.70,89.63 371.83,89.68 369.92,89.46 367.99,88.98 366.06,88.25 364.15,87.29 362.27,86.11 360.45,84.75 358.71,83.22 357.08,81.57 355.57,79.82 354.23,78.02 353.06,76.22 352.10,74.46 Z" fill="#f79009" fill-opacity="0.92" stroke="#2e2e2e" stroke-opacity="0.85" stroke-width="0.5"/>
<path d="M340.11,81.50 A92.70,92.70 0 0 1 349.07,76.01 L350.03,77.71 351.10,79.46 352.27,81.23 353.51,82.97 354.79,84.63 356.09,86.18 357.38,87.58 358.65,88.81 359.89,89.83 361.06,90.64 362.17,91.21 363.19,91.53 364.12,91.60 364.95,91.40 365.67,90.95 366.27,90.24 366.75,89.28 367.12,88.09 367.36,86.68 367.49,85.08 367.50,83.31 367.40,81.41 367.19,79.40 366.90,77.32 366.52,75.23 366.07,73.16 365.56,71.16 365.01,69.29 A92.70,92.70 0 0 1 375.20,66.71 L375.50,68.68 375.66,70.83 375.67,73.07 375.52,75.37 375.22,77.68 374.75,79.95 374.13,82.13 373.34,84.20 372.39,86.13 371.29,87.87 370.04,89.42 368.65,90.75 367.13,91.84 365.49,92.68 363.74,93.27 361.89,93.60 359.97,93.67 357.99,93.48 355.97,93.05 353.94,92.38 351.90,91.50 349.90,90.42 347.95,89.17 346.09,87.78 344.34,86.28 342.74,84.70 341.32,83.10 340.11,81.50 Z" fill="#f79009" fill-opacity="0.92" stroke="#2e2e2e" stroke-opacity="0.85" stroke-width="0.5"/>
<path d="M313.93,109.16 A92.70,92.70 0 0 1 319.93,100.53 L321.75,102.20 323.56,104.35 325.31,106.93 326.97,109.90 328.52,113.23 329.93,116.87 331.17,120.79 332.23,124.95 333.10,129.31 333.75,133.84 334.17,138.49 334.37,143.23 334.33,148.03 334.05,152.84 333.53,157.64 332.79,162.38 331.82,167.02 330.64,171.54 329.25,175.90 327.69,180.06 325.96,183.99 324.09,187.66 322.10,191.02 320.03,194.05 317.90,196.71 315.75,198.96 313.62,200.78 311.55,202.14 A92.70,92.70 0 0 1 307.04,192.64 L309.09,191.62 311.22,190.21 313.39,188.42 315.54,186.30 317.64,183.86 319.66,181.13 321.56,178.14 323.32,174.93 324.89,171.52 326.28,167.93 327.45,164.20 328.39,160.36 329.09,156.44 329.55,152.47 329.75,148.48 329.70,144.50 329.40,140.56 328.86,136.69 328.08,132.92 327.08,129.30 325.88,125.84 324.49,122.58 322.95,119.56 321.27,116.81 319.50,114.36 317.65,112.24 315.78,110.50 313.93,109.16 Z" fill="#fabe26" fill-opacity="0.92" stroke="#2e2e2e" stroke-opacity="0.85" stroke-width="0.5"/>
<path d="M406.29,65.97 A92.70,92.70 0 0 1 416.59,68.08 L415.69,70.65 414.31,73.45 412.47,76.43 410.19,79.54 407.50,82.75 404.43,86.01 401.00,89.29 397.25,92.56 393.20,95.78 388.89,98.93 384.34,101.98 379.60,104.89 374.69,107.66 369.64,110.25 364.51,112.65 359.31,114.84 354.10,116.80 348.91,118.53 343.78,120.01 338.75,121.23 333.87,122.20 329.17,122.89 324.71,123.32 320.53,123.48 316.68,123.37 313.20,123.01 310.14,122.38 307.55,121.52 A92.70,92.70 0 0 1 312.20,112.09 L314.47,113.15 317.19,114.01 320.29,114.65 323.73,115.07 327.47,115.24 331.46,115.17 335.65,114.84 340.00,114.25 344.47,113.40 349.02,112.29 353.62,110.93 358.21,109.32 362.77,107.47 367.27,105.40 371.66,103.12 375.91,100.64 380.00,98.00 383.89,95.20 387.55,92.28 390.96,89.27 394.10,86.19 396.92,83.08 399.43,79.97 401.58,76.91 403.36,73.94 404.75,71.09 405.73,68.42 406.29,65.97 Z" fill="#f7d782" fill-opacity="0.92" stroke="#2e2e2e" stroke-opacity="0.85" stroke-width="0.5"/>
<path d="M303.10,134.69 A92.70,92.70 0 0 1 306.28,124.67 L308.09,125.42 309.97,126.31 311.87,127.33 313.74,128.45 315.54,129.64 317.22,130.90 318.75,132.20 320.10,133.53 321.24,134.86 322.15,136.20 322.82,137.51 323.23,138.79 323.37,140.02 323.23,141.20 322.82,142.32 322.14,143.36 321.21,144.32 320.02,145.20 318.61,145.98 316.99,146.66 315.19,147.24 313.23,147.72 311.17,148.09 309.03,148.35 306.86,148.51 304.70,148.57 302.62,148.52 300.67,148.38 A92.70,92.70 0 0 1 302.32,138.00 L304.20,138.40 306.20,138.81 308.25,139.22 310.30,139.61 312.30,139.98 314.21,140.31 315.99,140.60 317.61,140.84 319.03,141.03 320.24,141.16 321.21,141.23 321.93,141.23 322.38,141.17 322.55,141.04 322.45,140.85 322.08,140.59 321.44,140.28 320.54,139.90 319.40,139.48 318.04,139.01 316.49,138.50 314.77,137.96 312.91,137.40 310.96,136.83 308.95,136.26 306.94,135.70 304.97,135.18 303.10,134.69 Z" fill="#fabe26" fill-opacity="0.92" stroke="#2e2e2e" stroke-opacity="0.85" stroke-width="0.5"/>
<path d="M300.31,162.28 A92.70,92.70 0 0 1 300.39,151.77 L302.34,151.95 304.40,152.25 306.51,152.66 308.63,153.17 310.70,153.78 312.68,154.49 314.52,155.28 316.20,156.15 317.69,157.09 318.96,158.09 319.98,159.14 320.75,160.24 321.25,161.38 321.47,162.55 321.41,163.74 321.07,164.94 320.46,166.13 319.59,167.32 318.47,168.48 317.12,169.61 315.57,170.70 313.85,171.73 311.98,172.70 310.02,173.58 307.99,174.38 305.95,175.07 303.95,175.64 302.04,176.08 A92.70,92.70 0 0 1 300.54,165.68 L302.47,165.51 304.49,165.31 306.57,165.09 308.64,164.86 310.66,164.61 312.59,164.37 314.37,164.12 315.99,163.87 317.41,163.63 318.60,163.40 319.55,163.17 320.23,162.97 320.64,162.77 320.77,162.60 320.62,162.44 320.19,162.31 319.48,162.20 318.51,162.10 317.30,162.04 315.86,161.99 314.23,161.96 312.42,161.96 310.48,161.97 308.45,162.00 306.36,162.05 304.28,162.12 302.24,162.20 300.31,162.28 Z" fill="#fabe26" fill-opacity="0.92" stroke="#2e2e2e" stroke-opacity="0.85" stroke-width="0.5"/>
<path d="M305.81,189.47 A92.70,92.70 0 0 1 302.78,179.41 L307.17,178.30 311.97,176.98 317.16,175.48 322.70,173.81 328.56,171.97 334.70,169.98 341.09,167.86 347.70,165.61 354.49,163.26 361.44,160.81 368.51,158.28 375.67,155.67 382.88,153.01 390.11,150.30 397.33,147.56 404.50,144.80 411.60,142.03 418.58,139.27 425.41,136.52 432.07,133.80 438.52,131.12 444.72,128.49 450.64,125.93 456.25,123.44 461.52,121.04 466.41,118.74 470.88,116.56 474.91,114.49 A92.70,92.70 0 0 1 479.28,124.05 L474.79,125.80 469.92,127.68 464.71,129.69 459.18,131.81 453.35,134.04 447.27,136.36 440.95,138.77 434.43,141.25 427.74,143.80 420.90,146.39 413.94,149.02 406.90,151.69 399.79,154.37 392.66,157.06 385.53,159.75 378.42,162.43 371.37,165.08 364.41,167.69 357.56,170.26 350.85,172.77 344.31,175.21 337.98,177.58 331.88,179.85 326.03,182.02 320.47,184.08 315.23,186.01 310.34,187.81 305.81,189.47 Z" fill="#155786" fill-opacity="0.92" stroke="#2e2e2e" stroke-opacity="0.85" stroke-width="0.5"/>
<path d="M392.41,65.00 A92.70,92.70 0 0 1 402.91,65.54 L402.35,69.30 401.44,73.50 400.20,78.12 398.65,83.11 396.81,88.43 394.68,94.04 392.30,99.91 389.68,105.99 386.85,112.24 383.81,118.63 380.59,125.12 377.21,131.67 373.69,138.24 370.05,144.79 366.32,151.28 362.50,157.68 358.64,163.95 354.74,170.06 350.83,175.96 346.94,181.62 343.08,187.00 339.28,192.06 335.57,196.77 331.96,201.10 328.49,205.00 325.17,208.44 322.04,211.39 319.11,213.81 A92.70,92.70 0 0 1 313.23,205.09 L316.15,203.15 319.29,200.66 322.62,197.66 326.11,194.19 329.73,190.27 333.45,185.96 337.25,181.27 341.10,176.25 344.97,170.94 348.83,165.37 352.67,159.57 356.45,153.59 360.15,147.46 363.76,141.23 367.24,134.92 370.58,128.59 373.75,122.27 376.74,115.99 379.52,109.81 382.08,103.75 384.39,97.87 386.45,92.19 388.22,86.78 389.71,81.66 390.89,76.88 391.74,72.48 392.25,68.50 392.41,65.00 Z" fill="#a3c387" fill-opacity="0.92" stroke="#2e2e2e" stroke-opacity="0.85" stroke-width="0.5"/>
<path d="M328.33,224.22 A92.70,92.70 0 0 1 321.22,216.48 L323.58,214.81 326.50,213.23 329.92,211.75 333.80,210.40 338.11,209.18 342.78,208.12 347.79,207.23 353.08,206.51 358.61,205.98 364.34,205.65 370.22,205.51 376.21,205.57 382.27,205.84 388.36,206.31 394.42,206.97 400.43,207.83 406.33,208.88 412.08,210.11 417.65,211.50 422.99,213.04 428.06,214.73 432.81,216.53 437.21,218.44 441.21,220.44 444.78,222.49 447.87,224.57 450.44,226.67 452.45,228.74 A92.70,92.70 0 0 1 444.03,235.03 L442.40,232.93 440.25,230.80 437.62,228.65 434.55,226.53 431.08,224.46 427.23,222.48 423.06,220.61 418.60,218.87 413.88,217.28 408.94,215.85 403.83,214.62 398.58,213.58 393.23,212.75 387.81,212.13 382.38,211.73 376.97,211.56 371.62,211.61 366.36,211.88 361.25,212.36 356.32,213.05 351.61,213.93 347.16,215.00 343.02,216.24 339.22,217.62 335.81,219.14 332.83,220.76 330.32,222.46 328.33,224.22 Z" fill="#a3c387" fill-opacity="0.92" stroke="#2e2e2e" stroke-opacity="0.85" stroke-width="0.5"/>
<path d="M478.90,192.31 A92.70,92.70 0 0 1 474.42,201.82 L472.06,200.84 469.09,200.09 465.56,199.57 461.54,199.28 457.06,199.21 452.17,199.33 446.92,199.66 441.36,200.17 435.54,200.86 429.51,201.71 423.31,202.73 417.00,203.89 410.61,205.18 404.20,206.60 397.82,208.14 391.52,209.78 385.33,211.51 379.32,213.32 373.52,215.20 367.99,217.13 362.77,219.11 357.92,221.12 353.47,223.15 349.47,225.19 345.99,227.21 343.05,229.22 340.71,231.20 339.01,233.13 A92.70,92.70 0 0 1 330.82,226.54 L332.93,224.56 335.71,222.55 339.09,220.51 343.04,218.47 347.50,216.42 352.42,214.37 357.75,212.34 363.45,210.34 369.46,208.37 375.74,206.45 382.23,204.58 388.90,202.78 395.68,201.05 402.54,199.41 409.42,197.88 416.28,196.45 423.06,195.14 429.71,193.97 436.20,192.94 442.47,192.07 448.47,191.37 454.15,190.86 459.47,190.53 464.37,190.42 468.81,190.53 472.75,190.87 476.12,191.46 478.90,192.31 Z" fill="#c9d7b8" fill-opacity="0.92" stroke="#2e2e2e" stroke-opacity="0.85" stroke-width="0.5"/>
<path d="M350.90,240.34 A92.70,92.70 0 0 1 341.81,235.05 L343.03,233.41 344.50,231.75 346.20,230.14 348.08,228.60 350.13,227.18 352.30,225.91 354.56,224.82 356.90,223.92 359.29,223.25 361.69,222.82 364.09,222.64 366.46,222.71 368.78,223.05 371.04,223.66 373.21,224.52 375.27,225.63 377.22,226.99 379.04,228.57 380.70,230.35 382.22,232.31 383.56,234.43 384.72,236.66 385.70,238.98 386.50,241.34 387.09,243.69 387.48,246.00 387.68,248.21 387.67,250.25 A92.70,92.70 0 0 1 377.23,249.07 L377.50,247.12 377.67,245.03 377.72,242.86 377.67,240.65 377.49,238.47 377.19,236.34 376.77,234.32 376.22,232.44 375.54,230.72 374.75,229.20 373.83,227.90 372.80,226.83 371.67,226.01 370.44,225.46 369.12,225.17 367.73,225.15 366.27,225.39 364.75,225.89 363.21,226.63 361.64,227.61 360.07,228.79 358.53,230.16 357.02,231.68 355.57,233.33 354.21,235.06 352.96,236.84 351.85,238.62 350.90,240.34 Z" fill="#c9d7b8" fill-opacity="0.92" stroke="#2e2e2e" stroke-opacity="0.85" stroke-width="0.5"/>
<path d="M483.11,179.06 A92.70,92.70 0 0 1 480.11,189.13 L478.00,188.53 475.61,188.15 473.00,187.99 470.20,188.07 467.28,188.40 464.27,188.97 461.22,189.80 458.16,190.88 455.14,192.21 452.18,193.78 449.33,195.58 446.59,197.61 444.01,199.86 441.60,202.29 439.39,204.90 437.38,207.67 435.60,210.57 434.05,213.58 432.75,216.66 431.69,219.79 430.89,222.93 430.33,226.04 430.02,229.09 429.96,232.03 430.12,234.82 430.51,237.41 431.10,239.76 431.88,241.80 A92.70,92.70 0 0 1 422.11,245.68 L421.54,243.39 421.24,240.77 421.20,237.86 421.44,234.71 421.96,231.37 422.76,227.89 423.85,224.30 425.21,220.66 426.84,217.00 428.73,213.36 430.88,209.77 433.26,206.26 435.87,202.87 438.68,199.61 441.67,196.53 444.82,193.63 448.11,190.95 451.50,188.50 454.96,186.29 458.46,184.34 461.97,182.67 465.44,181.27 468.84,180.17 472.12,179.35 475.24,178.84 478.14,178.62 480.78,178.69 483.11,179.06 Z" fill="#82c9ef" fill-opacity="0.92" stroke="#2e2e2e" stroke-opacity="0.85" stroke-width="0.5"/>
<path d="M484.94,168.71 A92.70,92.70 0 0 1 483.11,179.06 L480.97,178.70 478.59,178.58 476.01,178.70 473.30,179.07 470.49,179.69 467.64,180.57 464.78,181.68 461.95,183.05 459.20,184.65 456.55,186.48 454.03,188.52 451.66,190.77 449.48,193.21 447.50,195.82 445.73,198.58 444.19,201.47 442.90,204.47 441.84,207.54 441.04,210.66 440.49,213.79 440.18,216.91 440.11,219.98 440.28,222.96 440.66,225.81 441.25,228.49 442.02,230.95 442.96,233.14 444.03,235.03 A92.70,92.70 0 0 1 434.95,240.32 L434.05,238.17 433.36,235.66 432.89,232.84 432.66,229.75 432.67,226.44 432.94,222.96 433.47,219.35 434.26,215.65 435.32,211.90 436.63,208.14 438.21,204.40 440.03,200.71 442.09,197.12 444.36,193.63 446.85,190.30 449.52,187.13 452.35,184.15 455.32,181.38 458.40,178.85 461.55,176.56 464.75,174.54 467.96,172.80 471.13,171.35 474.24,170.20 477.22,169.36 480.03,168.83 482.62,168.61 484.94,168.71 Z" fill="#155786" fill-opacity="0.92" stroke="#2e2e2e" stroke-opacity="0.85" stroke-width="0.5"/>
<path d="M419.86,69.01 A92.70,92.70 0 0 1 429.73,72.63 L428.97,74.40 428.18,76.28 427.38,78.21 426.60,80.15 425.86,82.04 425.16,83.85 424.53,85.54 423.98,87.08 423.52,88.45 423.16,89.61 422.91,90.54 422.77,91.25 422.74,91.70 422.83,91.90 423.04,91.83 423.36,91.52 423.80,90.95 424.34,90.14 424.98,89.11 425.70,87.86 426.50,86.44 427.36,84.85 428.27,83.14 429.21,81.33 430.15,79.47 431.09,77.60 431.99,75.78 432.82,74.04 A92.70,92.70 0 0 1 442.04,79.09 L440.95,80.73 439.71,82.40 438.35,84.07 436.89,85.68 435.37,87.21 433.81,88.62 432.24,89.87 430.68,90.94 429.15,91.80 427.67,92.44 426.25,92.84 424.91,92.99 423.68,92.89 422.54,92.53 421.53,91.91 420.63,91.05 419.87,89.94 419.24,88.61 418.75,87.07 418.40,85.35 418.17,83.47 418.08,81.46 418.12,79.36 418.27,77.21 418.54,75.05 418.90,72.93 419.34,70.90 419.86,69.01 Z" fill="#e70a82" fill-opacity="0.92" stroke="#2e2e2e" stroke-opacity="0.85" stroke-width="0.5"/>
<path d="M322.08,97.89 A92.70,92.70 0 0 1 337.35,83.49 L339.47,86.58 341.63,90.25 343.82,94.44 346.03,99.13 348.24,104.26 350.44,109.79 352.61,115.69 354.75,121.91 356.83,128.41 358.86,135.15 360.81,142.09 362.68,149.17 364.45,156.37 366.12,163.63 367.68,170.92 369.11,178.19 370.41,185.41 371.56,192.51 372.58,199.48 373.43,206.25 374.12,212.79 374.64,219.06 374.99,225.00 375.15,230.59 375.13,235.77 374.91,240.49 374.50,244.73 373.88,248.43 A92.70,92.70 0 0 1 353.96,241.83 L355.11,238.86 356.08,235.33 356.86,231.30 357.45,226.81 357.84,221.90 358.02,216.63 358.01,211.03 357.79,205.16 357.37,199.06 356.75,192.77 355.93,186.35 354.92,179.83 353.73,173.26 352.36,166.68 350.82,160.14 349.13,153.68 347.29,147.34 345.32,141.17 343.23,135.21 341.03,129.51 338.75,124.09 336.40,119.01 334.00,114.31 331.58,110.03 329.15,106.20 326.74,102.88 324.37,100.09 322.08,97.89 Z" fill="#fabe26" fill-opacity="0.92" stroke="#2e2e2e" stroke-opacity="0.85" stroke-width="0.5"/>
<path d="M472.75,204.79 A92.70,92.70 0 0 1 452.45,228.74 L451.12,227.27 449.58,225.80 447.88,224.37 446.05,223.02 444.14,221.78 442.16,220.70 440.16,219.78 438.16,219.06 436.18,218.55 434.25,218.26 432.40,218.22 430.63,218.42 428.97,218.87 427.44,219.57 426.04,220.51 424.78,221.69 423.68,223.08 422.75,224.69 421.98,226.47 421.37,228.43 420.94,230.51 420.67,232.69 420.56,234.95 420.60,237.23 420.79,239.49 421.11,241.68 421.56,243.77 422.11,245.68 A92.70,92.70 0 0 1 391.07,250.38 L391.30,248.01 391.90,245.39 392.86,242.58 394.17,239.64 395.81,236.59 397.77,233.50 400.04,230.39 402.59,227.32 405.42,224.30 408.49,221.38 411.78,218.59 415.28,215.95 418.95,213.48 422.77,211.21 426.71,209.15 430.73,207.32 434.82,205.73 438.93,204.39 443.02,203.31 447.07,202.49 451.03,201.93 454.86,201.63 458.53,201.58 461.98,201.78 465.17,202.22 468.07,202.88 470.61,203.74 472.75,204.79 Z" fill="#33ade4" fill-opacity="0.92" stroke="#2e2e2e" stroke-opacity="0.85" stroke-width="0.5"/>
<path d="M444.89,80.95 A92.70,92.70 0 0 1 473.27,111.51 L471.61,112.50 469.88,113.61 468.13,114.79 466.42,116.02 464.77,117.29 463.24,118.55 461.84,119.80 460.61,121.01 459.58,122.16 458.76,123.24 458.18,124.23 457.84,125.12 457.74,125.91 457.91,126.58 458.33,127.12 459.00,127.54 459.91,127.84 461.05,128.00 462.40,128.04 463.94,127.96 465.65,127.76 467.50,127.46 469.45,127.05 471.46,126.56 473.50,126.00 475.52,125.38 477.46,124.73 479.28,124.05 A92.70,92.70 0 0 1 485.29,165.32 L482.93,164.94 480.36,164.18 477.62,163.05 474.75,161.56 471.82,159.73 468.85,157.58 465.90,155.12 462.99,152.38 460.15,149.37 457.43,146.13 454.85,142.66 452.43,139.01 450.20,135.19 448.17,131.24 446.36,127.18 444.79,123.04 443.46,118.87 442.38,114.69 441.56,110.53 440.99,106.44 440.68,102.45 440.62,98.61 440.80,94.95 441.22,91.51 441.85,88.35 442.69,85.51 443.71,83.02 444.89,80.95 Z" fill="#155786" fill-opacity="0.92" stroke="#2e2e2e" stroke-opacity="0.85" stroke-width="0.5"/>
<path d="M392.39,60.10 A97.60,97.60 0 0 1 403.44,60.67 L403.06,64.15 A94.10,94.10 0 0 0 392.41,63.60 Z" fill="#ec1590" stroke="#2a2a2a" stroke-opacity="0.85" stroke-width="0.5"/>
<path d="M406.99,61.12 A97.60,97.60 0 0 1 417.84,63.34 L416.94,66.72 A94.10,94.10 0 0 0 406.49,64.59 Z" fill="#ec1590" stroke="#2a2a2a" stroke-opacity="0.85" stroke-width="0.5"/>
<path d="M421.28,64.32 A97.60,97.60 0 0 1 431.67,68.13 L430.28,71.34 A94.10,94.10 0 0 0 420.27,67.67 Z" fill="#ec1590" stroke="#2a2a2a" stroke-opacity="0.85" stroke-width="0.5"/>
<path d="M434.93,69.62 A97.60,97.60 0 0 1 444.64,74.94 L442.04,79.09 A92.70,92.70 0 0 0 432.82,74.04 Z" fill="#ec1590" stroke="#2a2a2a" stroke-opacity="0.85" stroke-width="0.5"/>
<path d="M447.64,76.89 A97.60,97.60 0 0 1 477.52,109.07 L474.49,110.81 A94.10,94.10 0 0 0 468.65,101.88 L468.65,101.88 A94.10,94.10 0 0 0 461.85,93.66 L461.85,93.66 A94.10,94.10 0 0 0 454.16,86.27 L454.16,86.27 A94.10,94.10 0 0 0 445.67,79.79 Z" fill="#15558c" stroke="#2a2a2a" stroke-opacity="0.85" stroke-width="0.5"/>
<path d="M479.25,112.21 A97.60,97.60 0 0 1 490.17,165.73 L485.29,165.32 A92.70,92.70 0 0 0 485.56,154.82 L485.56,154.82 A92.70,92.70 0 0 0 484.63,144.35 L484.63,144.35 A92.70,92.70 0 0 0 482.53,134.05 L482.53,134.05 A92.70,92.70 0 0 0 479.28,124.05 L479.28,124.05 A92.70,92.70 0 0 0 474.91,114.49 Z" fill="#15558c" stroke="#2a2a2a" stroke-opacity="0.85" stroke-width="0.5"/>
<path d="M489.81,169.29 A97.60,97.60 0 0 1 484.72,190.79 L481.43,189.61 A94.10,94.10 0 0 0 484.47,179.38 L483.11,179.06 A92.70,92.70 0 0 0 484.94,168.71 Z" fill="#15558c" stroke="#2a2a2a" stroke-opacity="0.85" stroke-width="0.5"/>
<path d="M483.44,194.14 A97.60,97.60 0 0 1 478.73,204.16 L475.66,202.49 A94.10,94.10 0 0 0 480.19,192.83 Z" fill="#15558c" stroke="#2a2a2a" stroke-opacity="0.85" stroke-width="0.5"/>
<path d="M476.97,207.28 A97.60,97.60 0 0 1 437.17,244.68 L435.58,241.56 A94.10,94.10 0 0 0 444.80,236.19 L444.80,236.19 A94.10,94.10 0 0 0 453.35,229.81 L452.45,228.74 A92.70,92.70 0 0 0 460.11,221.54 L460.11,221.54 A92.70,92.70 0 0 0 466.91,213.52 L466.91,213.52 A92.70,92.70 0 0 0 472.75,204.79 Z" fill="#8c78c8" stroke="#2a2a2a" stroke-opacity="0.85" stroke-width="0.5"/>
<path d="M433.95,246.25 A97.60,97.60 0 0 1 390.97,255.28 L391.04,251.78 A94.10,94.10 0 0 0 401.70,251.39 L401.70,251.39 A94.10,94.10 0 0 0 412.25,249.79 L412.25,249.79 A94.10,94.10 0 0 0 422.55,247.01 L422.11,245.68 A92.70,92.70 0 0 0 431.88,241.80 Z" fill="#24a4de" stroke="#2a2a2a" stroke-opacity="0.85" stroke-width="0.5"/>
<path d="M387.39,255.14 A97.60,97.60 0 0 1 376.40,253.89 L376.99,250.45 A94.10,94.10 0 0 0 387.59,251.65 Z" fill="#6cc3ee" stroke="#2a2a2a" stroke-opacity="0.85" stroke-width="0.5"/>
<path d="M372.88,253.22 A97.60,97.60 0 0 1 351.90,246.27 L353.37,243.10 A94.10,94.10 0 0 0 363.29,247.02 L363.29,247.02 A94.10,94.10 0 0 0 373.60,249.80 Z" fill="#cbc5ec" stroke="#2a2a2a" stroke-opacity="0.85" stroke-width="0.5"/>
<path d="M348.68,244.71 A97.60,97.60 0 0 1 339.11,239.14 L341.81,235.05 A92.70,92.70 0 0 0 350.90,240.34 Z" fill="#a3c187" stroke="#2a2a2a" stroke-opacity="0.85" stroke-width="0.5"/>
<path d="M336.16,237.11 A97.60,97.60 0 0 1 327.54,230.18 L330.82,226.54 A92.70,92.70 0 0 0 339.01,233.13 Z" fill="#a3c187" stroke="#2a2a2a" stroke-opacity="0.85" stroke-width="0.5"/>
<path d="M324.92,227.73 A97.60,97.60 0 0 1 317.43,219.59 L321.22,216.48 A92.70,92.70 0 0 0 328.33,224.22 Z" fill="#a3c187" stroke="#2a2a2a" stroke-opacity="0.85" stroke-width="0.5"/>
<path d="M315.21,216.77 A97.60,97.60 0 0 1 309.02,207.60 L313.23,205.09 A92.70,92.70 0 0 0 319.11,213.81 Z" fill="#a3c187" stroke="#2a2a2a" stroke-opacity="0.85" stroke-width="0.5"/>
<path d="M307.25,204.49 A97.60,97.60 0 0 1 302.50,194.49 L305.74,193.17 A94.10,94.10 0 0 0 310.32,202.81 Z" fill="#3db54a" stroke="#2a2a2a" stroke-opacity="0.85" stroke-width="0.5"/>
<path d="M301.21,191.15 A97.60,97.60 0 0 1 298.01,180.55 L301.42,179.73 A94.10,94.10 0 0 0 304.50,189.95 Z" fill="#f9b920" stroke="#2a2a2a" stroke-opacity="0.85" stroke-width="0.5"/>
<path d="M297.24,177.05 A97.60,97.60 0 0 1 295.66,166.10 L300.54,165.68 A92.70,92.70 0 0 0 302.04,176.08 Z" fill="#f9b920" stroke="#2a2a2a" stroke-opacity="0.85" stroke-width="0.5"/>
<path d="M295.42,162.53 A97.60,97.60 0 0 1 295.50,151.46 L298.99,151.68 A94.10,94.10 0 0 0 298.92,162.35 Z" fill="#f9b920" stroke="#2a2a2a" stroke-opacity="0.85" stroke-width="0.5"/>
<path d="M295.79,147.89 A97.60,97.60 0 0 1 297.53,136.96 L302.32,138.00 A92.70,92.70 0 0 0 300.67,148.38 Z" fill="#f9b920" stroke="#2a2a2a" stroke-opacity="0.85" stroke-width="0.5"/>
<path d="M298.35,133.47 A97.60,97.60 0 0 1 301.70,122.93 L304.98,124.17 A94.10,94.10 0 0 0 301.75,134.34 Z" fill="#f9b920" stroke="#2a2a2a" stroke-opacity="0.85" stroke-width="0.5"/>
<path d="M303.04,119.60 A97.60,97.60 0 0 1 307.93,109.68 L312.20,112.09 A92.70,92.70 0 0 0 307.55,121.52 Z" fill="#f6d47f" stroke="#2a2a2a" stroke-opacity="0.85" stroke-width="0.5"/>
<path d="M309.75,106.59 A97.60,97.60 0 0 1 316.07,97.51 L319.93,100.53 A92.70,92.70 0 0 0 313.93,109.16 Z" fill="#e4d035" stroke="#2a2a2a" stroke-opacity="0.85" stroke-width="0.5"/>
<path d="M318.33,94.73 A97.60,97.60 0 0 1 334.41,79.57 L337.35,83.49 A92.70,92.70 0 0 0 329.30,90.25 L329.30,90.25 A92.70,92.70 0 0 0 322.08,97.89 Z" fill="#f9b920" stroke="#2a2a2a" stroke-opacity="0.85" stroke-width="0.5"/>
<path d="M337.32,77.47 A97.60,97.60 0 0 1 346.76,71.70 L348.41,74.78 A94.10,94.10 0 0 0 339.31,80.35 Z" fill="#f47a5c" stroke="#2a2a2a" stroke-opacity="0.85" stroke-width="0.5"/>
<path d="M349.95,70.06 A97.60,97.60 0 0 1 360.14,65.76 L361.79,70.38 A92.70,92.70 0 0 0 352.10,74.46 Z" fill="#f6905e" stroke="#2a2a2a" stroke-opacity="0.85" stroke-width="0.5"/>
<path d="M363.54,64.62 A97.60,97.60 0 0 1 374.27,61.90 L375.20,66.71 A92.70,92.70 0 0 0 365.01,69.29 Z" fill="#d41b36" stroke="#2a2a2a" stroke-opacity="0.85" stroke-width="0.5"/>
<path d="M377.79,61.28 A97.60,97.60 0 0 1 388.81,60.19 L388.95,63.68 A94.10,94.10 0 0 0 378.34,64.73 Z" fill="#d41b36" stroke="#2a2a2a" stroke-opacity="0.85" stroke-width="0.5"/>
<rect x="356.51" y="73.45" width="3.0" height="3.0" fill="#ffffff" fill-opacity="0.3" stroke="#1a1a1a" stroke-width="0.8" transform="rotate(337.1 358.01 74.95)"/>
<rect x="369.28" y="69.17" width="3.0" height="3.0" fill="#ffffff" fill-opacity="0.3" stroke="#1a1a1a" stroke-width="0.8" transform="rotate(345.7 370.78 70.67)"/>
<rect x="317.69" y="104.91" width="3.0" height="3.0" fill="#ffffff" fill-opacity="0.3" stroke="#1a1a1a" stroke-width="0.8" transform="rotate(304.8 319.19 106.41)"/>
<rect x="302.71" y="142.12" width="3.0" height="3.0" fill="#ffffff" fill-opacity="0.3" stroke="#1a1a1a" stroke-width="0.8" transform="rotate(279.0 304.21 143.62)"/>
<rect x="302.52" y="168.99" width="3.0" height="3.0" fill="#ffffff" fill-opacity="0.3" stroke="#1a1a1a" stroke-width="0.8" transform="rotate(261.8 304.02 170.49)"/>
<rect x="316.95" y="206.41" width="3.0" height="3.0" fill="#ffffff" fill-opacity="0.3" stroke="#1a1a1a" stroke-width="0.8" transform="rotate(236.0 318.45 207.91)"/>
<rect x="325.30" y="216.99" width="3.0" height="3.0" fill="#ffffff" fill-opacity="0.3" stroke="#1a1a1a" stroke-width="0.8" transform="rotate(227.4 326.80 218.49)"/>
<rect x="335.14" y="226.19" width="3.0" height="3.0" fill="#ffffff" fill-opacity="0.3" stroke="#1a1a1a" stroke-width="0.8" transform="rotate(218.8 336.64 227.69)"/>
<rect x="346.24" y="233.82" width="3.0" height="3.0" fill="#ffffff" fill-opacity="0.3" stroke="#1a1a1a" stroke-width="0.8" transform="rotate(210.2 347.74 235.32)"/>
<rect x="424.49" y="239.68" width="3.0" height="3.0" fill="#ffffff" fill-opacity="0.3" stroke="#1a1a1a" stroke-width="0.8" transform="rotate(158.4 425.99 241.18)"/>
<rect x="479.82" y="171.90" width="3.0" height="3.0" fill="none" fill-opacity="0.3" stroke="#ffffff" stroke-width="0.8" transform="rotate(100.1 481.32 173.40)"/>
<rect x="434.61" y="77.48" width="3.0" height="3.0" fill="none" fill-opacity="0.3" stroke="#ffffff" stroke-width="0.8" transform="rotate(28.8 436.11 78.98)"/>
<text x="398.06" y="57.53" transform="rotate(-87.05 398.06 57.53)" text-anchor="start" dy="2.3" fill="#222222">ZSCAN22</text>
<text x="412.99" y="59.43" transform="rotate(-78.45 412.99 59.43)" text-anchor="start" dy="2.3" fill="#d3325a">UNC93B1 (fs)</text>
<text x="427.46" y="63.54" transform="rotate(-69.84 427.46 63.54)" text-anchor="start" dy="2.3" fill="#222222">SETD8</text>
<text x="441.16" y="69.77" transform="rotate(-61.24 441.16 69.77)" text-anchor="start" dy="2.3" fill="#222222">SBNO1</text>
<text x="466.39" y="89.44" transform="rotate(-42.89 466.39 89.44)" text-anchor="start" dy="2.3" fill="#222222">RUNX1T1</text>
<text x="491.76" y="140.74" transform="rotate(-9.73 491.76 140.74)" text-anchor="start" dy="2.3" fill="#222222">RUNX1</text>
<text x="490.50" y="180.81" transform="rotate(13.32 490.50 180.81)" text-anchor="start" dy="2.3" fill="#222222">RHOG</text>
<text x="483.67" y="200.36" transform="rotate(25.17 483.67 200.36)" text-anchor="start" dy="2.3" fill="#d3325a">PAN3 (fs)</text>
<text x="461.59" y="230.79" transform="rotate(46.78 461.59 230.79)" text-anchor="start" dy="2.3" fill="#222222">NUP98</text>
<text x="413.53" y="255.86" transform="rotate(78.13 413.53 255.86)" text-anchor="start" dy="2.3" fill="#222222">NSD1</text>
<text x="381.57" y="257.36" transform="rotate(276.48 381.57 257.36)" text-anchor="end" dy="2.3" fill="#222222">NPM1</text>
<text x="361.34" y="252.91" transform="rotate(288.34 361.34 252.91)" text-anchor="end" dy="2.3" fill="#222222">MYH11</text>
<text x="342.46" y="244.39" transform="rotate(300.19 342.46 244.39)" text-anchor="end" dy="2.3" fill="#d3325a">(fs) MSI2</text>
<text x="330.06" y="235.87" transform="rotate(308.79 330.06 235.87)" text-anchor="end" dy="2.3" fill="#222222">MLF1</text>
<text x="319.07" y="225.59" transform="rotate(317.40 319.07 225.59)" text-anchor="end" dy="2.3" fill="#222222">KDM5A</text>
<text x="309.75" y="213.78" transform="rotate(326.00 309.75 213.78)" text-anchor="end" dy="2.3" fill="#222222">GSE1</text>
<text x="302.29" y="200.71" transform="rotate(334.61 302.29 200.71)" text-anchor="end" dy="2.3" fill="#d3325a">EIF4G3</text>
<text x="296.88" y="186.68" transform="rotate(343.21 296.88 186.68)" text-anchor="end" dy="2.3" fill="#d3325a">DOPEY2</text>
<text x="293.62" y="171.98" transform="rotate(351.81 293.62 171.98)" text-anchor="end" dy="2.3" fill="#222222">DOC2B</text>
<text x="292.60" y="156.97" transform="rotate(360.42 292.60 156.97)" text-anchor="end" dy="2.3" fill="#222222">DOC2A</text>
<text x="293.84" y="141.98" transform="rotate(369.02 293.84 141.98)" text-anchor="end" dy="2.3" fill="#222222">CEBPE</text>
<text x="297.31" y="127.33" transform="rotate(377.62 297.31 127.33)" text-anchor="end" dy="2.3" fill="#222222">CEBPA</text>
<text x="302.92" y="113.38" transform="rotate(386.23 302.92 113.38)" text-anchor="end" dy="2.3" fill="#d3325a">(fs) CD74</text>
<text x="310.57" y="100.42" transform="rotate(394.83 310.57 100.42)" text-anchor="end" dy="2.3" fill="#d3325a">CCNK</text>
<text x="324.09" y="84.73" transform="rotate(406.68 324.09 84.73)" text-anchor="end" dy="2.3" fill="#222222">CBFB</text>
<text x="340.55" y="72.15" transform="rotate(418.54 340.55 72.15)" text-anchor="end" dy="2.3" fill="#d3325a">CARNS1</text>
<text x="353.93" y="65.28" transform="rotate(427.14 353.93 65.28)" text-anchor="end" dy="2.3" fill="#d3325a">BCR</text>
<text x="368.20" y="60.49" transform="rotate(435.74 368.20 60.49)" text-anchor="end" dy="2.3" fill="#d3325a">ADRBK1</text>
<text x="383.02" y="57.89" transform="rotate(444.35 383.02 57.89)" text-anchor="end" dy="2.3" fill="#d3325a">ABL1</text>
<text x="0" y="0" dy="0.36em" text-anchor="middle" fill="#ffffff" stroke="#ffffff" stroke-width="0" style="font-style:normal;font-size:6.70px;font-weight:normal" transform="translate(222.00,147.40) rotate(-4.0)">8.5<tspan style="font-size:5.2px" dy="-0.5">%</tspan></text>
<text x="0" y="0" dy="0.36em" text-anchor="middle" fill="#ffffff" stroke="#ffffff" stroke-width="0" style="font-style:normal;font-size:6.70px;font-weight:normal" transform="translate(473.00,132.90) rotate(-23.6)">17.4<tspan style="font-size:5.2px" dy="-0.5">%</tspan></text>
<text x="0" y="0" dy="0.36em" text-anchor="middle" fill="#131a26" stroke="#131a26" stroke-width="0" style="font-style:normal;font-size:6.80px;font-weight:bold" transform="translate(447.40,219.80) rotate(39.5)">13.0%</text>
<text x="0" y="0" dy="0.36em" text-anchor="middle" fill="#2b2005" stroke="#2b2005" stroke-width="0" style="font-style:normal;font-size:6.80px;font-weight:normal" transform="translate(329.20,100.60) rotate(51.0)">8.7%</text>
</g>
<rect x="249.6" y="262.7" width="28.4" height="18.4" fill="#fff" stroke="#1a1a1a" stroke-width="1.15"/>
<path d="M254.00,265.85 L254.62,267.34 L256.23,267.47 L255.01,268.53 L255.38,270.10 L254.00,269.26 L252.62,270.10 L252.99,268.53 L251.77,267.47 L253.38,267.34 Z" fill="#111111"/><rect x="252.7" y="274.8" width="2.7" height="2.7" fill="none" stroke="#1a1a1a" stroke-width="0.85"/>
<text x="258.7" y="270.6" style="font-size:7.4px" fill="#1a1a1a">2.1%</text>
<text x="258.7" y="278.6" style="font-size:7.4px" fill="#1a1a1a">4.3%</text>
<rect x="0" y="0" width="520" height="1" fill="#000"/><rect x="0" y="0" width="1" height="288" fill="#000"/><rect x="518.6" y="0" width="1.4" height="288" fill="#000"/><rect x="0" y="286.75" width="520" height="1.25" fill="#000"/>
</svg>
</body></html>
